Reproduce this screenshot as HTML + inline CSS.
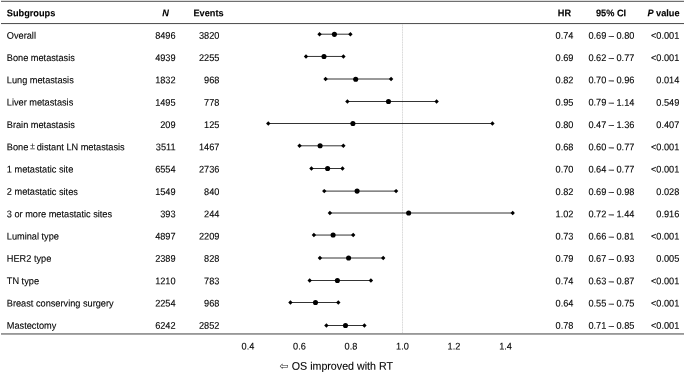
<!DOCTYPE html>
<html><head><meta charset="utf-8"><title>Forest plot</title>
<style>
html,body{margin:0;padding:0;background:#fff;}
body{width:685px;height:373px;position:relative;overflow:hidden;font-family:"Liberation Sans",Arial,Helvetica,sans-serif;color:#000;}
.t{position:absolute;left:0;top:0;white-space:nowrap;font-size:9.65px;line-height:12px;height:12px;width:140px;transform-origin:0 0;}
.h{font-weight:bold;}
.t,.cap{-webkit-text-stroke:0.1px #000;}
.r{text-align:right;}
.c{text-align:center;}
.pm{margin:0 -0.9px;-webkit-text-stroke:0;color:#222;position:relative;top:-1.2px;}
svg{position:absolute;left:0;top:0;}
.cap{position:absolute;left:0;top:0;white-space:nowrap;font-size:11.1px;line-height:14px;height:14px;transform-origin:0 0;}
.ar{font-family:"DejaVu Sans",sans-serif;font-size:11.2px;margin-right:0.3px;position:relative;top:0.4px;-webkit-text-stroke:0;color:#222;}
</style></head><body>

<svg width="685" height="373" viewBox="0 0 685 373">
<rect x="1" y="0" width="683" height="1" fill="#dcdcdc"/>
<rect x="1" y="1" width="683" height="1" fill="#707070"/>
<rect x="1" y="23" width="683" height="1" fill="#555"/>
<rect x="1" y="24" width="683" height="1" fill="#f3f3f3"/>
<rect x="1" y="333" width="683" height="1" fill="#989898"/>
<rect x="1" y="334" width="683" height="1" fill="#a8a8a8"/>
<line x1="402.5" y1="24" x2="402.5" y2="333" stroke="#f0f0f0" stroke-width="1"/><line x1="402.5" y1="24.3" x2="402.5" y2="333" stroke="#dadada" stroke-width="1" stroke-dasharray="1.3 1.2"/>
<g fill="#000" stroke="none">
<line x1="319.55" y1="34.20" x2="350.40" y2="34.20" stroke="#000" stroke-width="0.8"/>
<path d="M317.35 34.20 L319.55 32.00 L321.75 34.20 L319.55 36.40Z"/>
<path d="M348.20 34.20 L350.40 32.00 L352.60 34.20 L350.40 36.40Z"/>
<circle cx="334.40" cy="34.35" r="2.55"/>
</g>
<g fill="#000" stroke="none">
<line x1="306.00" y1="56.45" x2="343.40" y2="56.45" stroke="#000" stroke-width="0.8"/>
<path d="M303.80 56.45 L306.00 54.25 L308.20 56.45 L306.00 58.65Z"/>
<path d="M341.20 56.45 L343.40 54.25 L345.60 56.45 L343.40 58.65Z"/>
<circle cx="324.00" cy="56.55" r="2.55"/>
</g>
<g fill="#000" stroke="none">
<line x1="325.60" y1="79.00" x2="391.10" y2="79.00" stroke="#000" stroke-width="0.8"/>
<path d="M323.40 79.00 L325.60 76.80 L327.80 79.00 L325.60 81.20Z"/>
<path d="M388.90 79.00 L391.10 76.80 L393.30 79.00 L391.10 81.20Z"/>
<circle cx="355.70" cy="79.20" r="2.55"/>
</g>
<g fill="#000" stroke="none">
<line x1="347.40" y1="101.50" x2="436.60" y2="101.50" stroke="#000" stroke-width="0.8"/>
<path d="M345.20 101.50 L347.40 99.30 L349.60 101.50 L347.40 103.70Z"/>
<path d="M434.40 101.50 L436.60 99.30 L438.80 101.50 L436.60 103.70Z"/>
<circle cx="388.50" cy="101.50" r="2.55"/>
</g>
<g fill="#000" stroke="none">
<line x1="268.30" y1="123.50" x2="492.40" y2="123.50" stroke="#000" stroke-width="0.8"/>
<path d="M266.10 123.50 L268.30 121.30 L270.50 123.50 L268.30 125.70Z"/>
<path d="M490.20 123.50 L492.40 121.30 L494.60 123.50 L492.40 125.70Z"/>
<circle cx="352.90" cy="123.50" r="2.55"/>
</g>
<g fill="#000" stroke="none">
<line x1="299.55" y1="145.80" x2="343.35" y2="145.80" stroke="#000" stroke-width="0.8"/>
<path d="M297.35 145.80 L299.55 143.60 L301.75 145.80 L299.55 148.00Z"/>
<path d="M341.15 145.80 L343.35 143.60 L345.55 145.80 L343.35 148.00Z"/>
<circle cx="320.10" cy="145.80" r="2.55"/>
</g>
<g fill="#000" stroke="none">
<line x1="311.45" y1="168.50" x2="342.50" y2="168.50" stroke="#000" stroke-width="0.8"/>
<path d="M309.25 168.50 L311.45 166.30 L313.65 168.50 L311.45 170.70Z"/>
<path d="M340.30 168.50 L342.50 166.30 L344.70 168.50 L342.50 170.70Z"/>
<circle cx="327.60" cy="168.50" r="2.55"/>
</g>
<g fill="#000" stroke="none">
<line x1="324.25" y1="191.10" x2="396.10" y2="191.10" stroke="#000" stroke-width="0.8"/>
<path d="M322.05 191.10 L324.25 188.90 L326.45 191.10 L324.25 193.30Z"/>
<path d="M393.90 191.10 L396.10 188.90 L398.30 191.10 L396.10 193.30Z"/>
<circle cx="357.10" cy="191.10" r="2.55"/>
</g>
<g fill="#000" stroke="none">
<line x1="329.90" y1="213.00" x2="512.70" y2="213.00" stroke="#000" stroke-width="0.8"/>
<path d="M327.70 213.00 L329.90 210.80 L332.10 213.00 L329.90 215.20Z"/>
<path d="M510.50 213.00 L512.70 210.80 L514.90 213.00 L512.70 215.20Z"/>
<circle cx="408.65" cy="213.00" r="2.55"/>
</g>
<g fill="#000" stroke="none">
<line x1="313.90" y1="235.05" x2="353.20" y2="235.05" stroke="#000" stroke-width="0.8"/>
<path d="M311.70 235.05 L313.90 232.85 L316.10 235.05 L313.90 237.25Z"/>
<path d="M351.00 235.05 L353.20 232.85 L355.40 235.05 L353.20 237.25Z"/>
<circle cx="333.10" cy="235.05" r="2.55"/>
</g>
<g fill="#000" stroke="none">
<line x1="319.93" y1="258.00" x2="383.20" y2="258.00" stroke="#000" stroke-width="0.8"/>
<path d="M317.73 258.00 L319.93 255.80 L322.13 258.00 L319.93 260.20Z"/>
<path d="M381.00 258.00 L383.20 255.80 L385.40 258.00 L383.20 260.20Z"/>
<circle cx="348.60" cy="258.00" r="2.55"/>
</g>
<g fill="#000" stroke="none">
<line x1="309.70" y1="280.50" x2="370.90" y2="280.50" stroke="#000" stroke-width="0.8"/>
<path d="M307.50 280.50 L309.70 278.30 L311.90 280.50 L309.70 282.70Z"/>
<path d="M368.70 280.50 L370.90 278.30 L373.10 280.50 L370.90 282.70Z"/>
<circle cx="337.40" cy="280.50" r="2.55"/>
</g>
<g fill="#000" stroke="none">
<line x1="290.44" y1="302.50" x2="338.30" y2="302.50" stroke="#000" stroke-width="0.8"/>
<path d="M288.24 302.50 L290.44 300.30 L292.64 302.50 L290.44 304.70Z"/>
<path d="M336.10 302.50 L338.30 300.30 L340.50 302.50 L338.30 304.70Z"/>
<circle cx="315.50" cy="302.50" r="2.55"/>
</g>
<g fill="#000" stroke="none">
<line x1="326.40" y1="325.50" x2="364.40" y2="325.50" stroke="#000" stroke-width="0.8"/>
<path d="M324.20 325.50 L326.40 323.30 L328.60 325.50 L326.40 327.70Z"/>
<path d="M362.20 325.50 L364.40 323.30 L366.60 325.50 L364.40 327.70Z"/>
<circle cx="345.50" cy="325.50" r="2.55"/>
</g>
</svg>
<div class="t h" style="transform:matrix(0.9554,0.0005,0,1,6.80,7.30)">Subgroups</div>
<div class="t h c" style="transform:matrix(0.9554,0.0005,0,1,98.62,7.30)"><i>N</i></div>
<div class="t h c" style="transform:matrix(0.9554,0.0005,0,1,141.62,7.30)">Events</div>
<div class="t h c" style="transform:matrix(0.9554,0.0005,0,1,497.62,7.30)">HR</div>
<div class="t h c" style="transform:matrix(0.9554,0.0005,0,1,544.22,7.30)">95% CI</div>
<div class="t h r" style="transform:matrix(0.9554,0.0005,0,1,545.84,7.30)"><i>P</i> value</div>
<div class="t " style="transform:matrix(0.9554,0.0005,0,1,6.80,29.65)">Overall</div>
<div class="t r" style="transform:matrix(0.9554,0.0005,0,1,41.84,29.65)">8496</div>
<div class="t r" style="transform:matrix(0.9554,0.0005,0,1,85.64,29.65)">3820</div>
<div class="t c" style="transform:matrix(0.9554,0.0005,0,1,497.62,29.65)">0.74</div>
<div class="t c" style="transform:matrix(0.9554,0.0005,0,1,544.52,29.65)">0.69 – 0.80</div>
<div class="t r" style="transform:matrix(0.9554,0.0005,0,1,545.54,29.65)">&lt;0.001</div>
<div class="t " style="transform:matrix(0.9554,0.0005,0,1,6.80,51.97)">Bone metastasis</div>
<div class="t r" style="transform:matrix(0.9554,0.0005,0,1,41.84,51.97)">4939</div>
<div class="t r" style="transform:matrix(0.9554,0.0005,0,1,85.64,51.97)">2255</div>
<div class="t c" style="transform:matrix(0.9554,0.0005,0,1,497.62,51.97)">0.69</div>
<div class="t c" style="transform:matrix(0.9554,0.0005,0,1,544.52,51.97)">0.62 – 0.77</div>
<div class="t r" style="transform:matrix(0.9554,0.0005,0,1,545.54,51.97)">&lt;0.001</div>
<div class="t " style="transform:matrix(0.9554,0.0005,0,1,6.80,74.28)">Lung metastasis</div>
<div class="t r" style="transform:matrix(0.9554,0.0005,0,1,41.84,74.28)">1832</div>
<div class="t r" style="transform:matrix(0.9554,0.0005,0,1,85.64,74.28)">968</div>
<div class="t c" style="transform:matrix(0.9554,0.0005,0,1,497.62,74.28)">0.82</div>
<div class="t c" style="transform:matrix(0.9554,0.0005,0,1,544.52,74.28)">0.70 – 0.96</div>
<div class="t r" style="transform:matrix(0.9554,0.0005,0,1,545.54,74.28)">0.014</div>
<div class="t " style="transform:matrix(0.9554,0.0005,0,1,6.80,96.59)">Liver metastasis</div>
<div class="t r" style="transform:matrix(0.9554,0.0005,0,1,41.84,96.59)">1495</div>
<div class="t r" style="transform:matrix(0.9554,0.0005,0,1,85.64,96.59)">778</div>
<div class="t c" style="transform:matrix(0.9554,0.0005,0,1,497.62,96.59)">0.95</div>
<div class="t c" style="transform:matrix(0.9554,0.0005,0,1,544.52,96.59)">0.79 – 1.14</div>
<div class="t r" style="transform:matrix(0.9554,0.0005,0,1,545.54,96.59)">0.549</div>
<div class="t " style="transform:matrix(0.9554,0.0005,0,1,6.80,118.91)">Brain metastasis</div>
<div class="t r" style="transform:matrix(0.9554,0.0005,0,1,41.84,118.91)">209</div>
<div class="t r" style="transform:matrix(0.9554,0.0005,0,1,85.64,118.91)">125</div>
<div class="t c" style="transform:matrix(0.9554,0.0005,0,1,497.62,118.91)">0.80</div>
<div class="t c" style="transform:matrix(0.9554,0.0005,0,1,544.52,118.91)">0.47 – 1.36</div>
<div class="t r" style="transform:matrix(0.9554,0.0005,0,1,545.54,118.91)">0.407</div>
<div class="t " style="transform:matrix(0.9554,0.0005,0,1,6.80,141.22)">Bone <span class="pm">±</span> distant LN metastasis</div>
<div class="t r" style="transform:matrix(0.9554,0.0005,0,1,41.84,141.22)">3511</div>
<div class="t r" style="transform:matrix(0.9554,0.0005,0,1,85.64,141.22)">1467</div>
<div class="t c" style="transform:matrix(0.9554,0.0005,0,1,497.62,141.22)">0.68</div>
<div class="t c" style="transform:matrix(0.9554,0.0005,0,1,544.52,141.22)">0.60 – 0.77</div>
<div class="t r" style="transform:matrix(0.9554,0.0005,0,1,545.54,141.22)">&lt;0.001</div>
<div class="t " style="transform:matrix(0.9554,0.0005,0,1,6.80,163.54)">1 metastatic site</div>
<div class="t r" style="transform:matrix(0.9554,0.0005,0,1,41.84,163.54)">6554</div>
<div class="t r" style="transform:matrix(0.9554,0.0005,0,1,85.64,163.54)">2736</div>
<div class="t c" style="transform:matrix(0.9554,0.0005,0,1,497.62,163.54)">0.70</div>
<div class="t c" style="transform:matrix(0.9554,0.0005,0,1,544.52,163.54)">0.64 – 0.77</div>
<div class="t r" style="transform:matrix(0.9554,0.0005,0,1,545.54,163.54)">&lt;0.001</div>
<div class="t " style="transform:matrix(0.9554,0.0005,0,1,6.80,185.86)">2 metastatic sites</div>
<div class="t r" style="transform:matrix(0.9554,0.0005,0,1,41.84,185.86)">1549</div>
<div class="t r" style="transform:matrix(0.9554,0.0005,0,1,85.64,185.86)">840</div>
<div class="t c" style="transform:matrix(0.9554,0.0005,0,1,497.62,185.86)">0.82</div>
<div class="t c" style="transform:matrix(0.9554,0.0005,0,1,544.52,185.86)">0.69 – 0.98</div>
<div class="t r" style="transform:matrix(0.9554,0.0005,0,1,545.54,185.86)">0.028</div>
<div class="t " style="transform:matrix(0.9554,0.0005,0,1,6.80,208.17)">3 or more metastatic sites</div>
<div class="t r" style="transform:matrix(0.9554,0.0005,0,1,41.84,208.17)">393</div>
<div class="t r" style="transform:matrix(0.9554,0.0005,0,1,85.64,208.17)">244</div>
<div class="t c" style="transform:matrix(0.9554,0.0005,0,1,497.62,208.17)">1.02</div>
<div class="t c" style="transform:matrix(0.9554,0.0005,0,1,544.52,208.17)">0.72 – 1.44</div>
<div class="t r" style="transform:matrix(0.9554,0.0005,0,1,545.54,208.17)">0.916</div>
<div class="t " style="transform:matrix(0.9554,0.0005,0,1,6.80,230.49)">Luminal type</div>
<div class="t r" style="transform:matrix(0.9554,0.0005,0,1,41.84,230.49)">4897</div>
<div class="t r" style="transform:matrix(0.9554,0.0005,0,1,85.64,230.49)">2209</div>
<div class="t c" style="transform:matrix(0.9554,0.0005,0,1,497.62,230.49)">0.73</div>
<div class="t c" style="transform:matrix(0.9554,0.0005,0,1,544.52,230.49)">0.66 – 0.81</div>
<div class="t r" style="transform:matrix(0.9554,0.0005,0,1,545.54,230.49)">&lt;0.001</div>
<div class="t " style="transform:matrix(0.9554,0.0005,0,1,6.80,252.80)">HER2 type</div>
<div class="t r" style="transform:matrix(0.9554,0.0005,0,1,41.84,252.80)">2389</div>
<div class="t r" style="transform:matrix(0.9554,0.0005,0,1,85.64,252.80)">828</div>
<div class="t c" style="transform:matrix(0.9554,0.0005,0,1,497.62,252.80)">0.79</div>
<div class="t c" style="transform:matrix(0.9554,0.0005,0,1,544.52,252.80)">0.67 – 0.93</div>
<div class="t r" style="transform:matrix(0.9554,0.0005,0,1,545.54,252.80)">0.005</div>
<div class="t " style="transform:matrix(0.9554,0.0005,0,1,6.80,275.12)">TN type</div>
<div class="t r" style="transform:matrix(0.9554,0.0005,0,1,41.84,275.12)">1210</div>
<div class="t r" style="transform:matrix(0.9554,0.0005,0,1,85.64,275.12)">783</div>
<div class="t c" style="transform:matrix(0.9554,0.0005,0,1,497.62,275.12)">0.74</div>
<div class="t c" style="transform:matrix(0.9554,0.0005,0,1,544.52,275.12)">0.63 – 0.87</div>
<div class="t r" style="transform:matrix(0.9554,0.0005,0,1,545.54,275.12)">&lt;0.001</div>
<div class="t " style="transform:matrix(0.9554,0.0005,0,1,6.80,297.43)">Breast conserving surgery</div>
<div class="t r" style="transform:matrix(0.9554,0.0005,0,1,41.84,297.43)">2254</div>
<div class="t r" style="transform:matrix(0.9554,0.0005,0,1,85.64,297.43)">968</div>
<div class="t c" style="transform:matrix(0.9554,0.0005,0,1,497.62,297.43)">0.64</div>
<div class="t c" style="transform:matrix(0.9554,0.0005,0,1,544.52,297.43)">0.55 – 0.75</div>
<div class="t r" style="transform:matrix(0.9554,0.0005,0,1,545.54,297.43)">&lt;0.001</div>
<div class="t " style="transform:matrix(0.9554,0.0005,0,1,6.80,319.75)">Mastectomy</div>
<div class="t r" style="transform:matrix(0.9554,0.0005,0,1,41.84,319.75)">6242</div>
<div class="t r" style="transform:matrix(0.9554,0.0005,0,1,85.64,319.75)">2852</div>
<div class="t c" style="transform:matrix(0.9554,0.0005,0,1,497.62,319.75)">0.78</div>
<div class="t c" style="transform:matrix(0.9554,0.0005,0,1,544.52,319.75)">0.71 – 0.85</div>
<div class="t r" style="transform:matrix(0.9554,0.0005,0,1,545.54,319.75)">&lt;0.001</div>
<div class="t c" style="transform:matrix(0.9554,0.0005,0,1,181.06,340.50)">0.4</div>
<div class="t c" style="transform:matrix(0.9554,0.0005,0,1,232.58,340.50)">0.6</div>
<div class="t c" style="transform:matrix(0.9554,0.0005,0,1,284.10,340.50)">0.8</div>
<div class="t c" style="transform:matrix(0.9554,0.0005,0,1,335.62,340.50)">1.0</div>
<div class="t c" style="transform:matrix(0.9554,0.0005,0,1,387.14,340.50)">1.2</div>
<div class="t c" style="transform:matrix(0.9554,0.0005,0,1,438.66,340.50)">1.4</div>
<div class="cap" style="transform:matrix(0.9613,0.0005,0,1,279.5,358.70)"><span class="ar">⇦</span> OS improved with RT</div>
</body></html>
